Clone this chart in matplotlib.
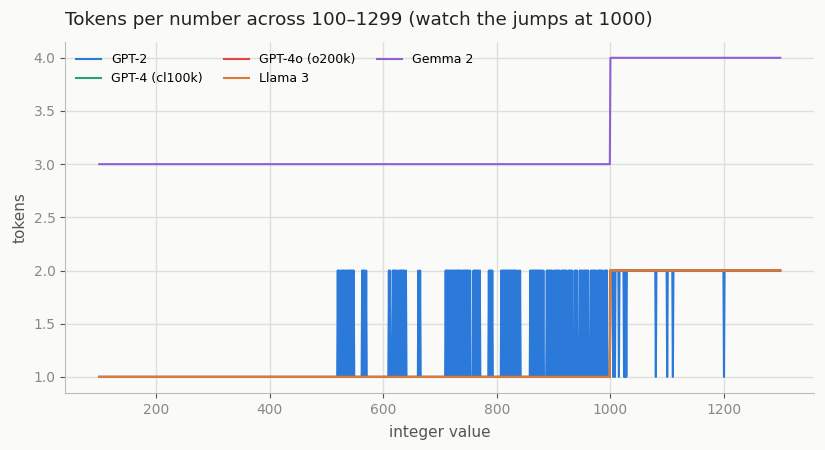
import numpy as np
import matplotlib
matplotlib.use('Agg')
import matplotlib.pyplot as plt

# range of integers shown
start_value = 100
end_value = 1299

# GPT-2: numbers below 1000 that take 2 tokens
gpt2_two_below_1000 = [
    520, 522, 524, 527, 529, 531, 533, 536, 538, 540, 542, 544, 546, 548,
    563, 565, 567, 570,
    610, 612,
    617, 619, 621, 623, 626,
    629, 631, 633, 635, 637, 640,
    662, 665,
    710, 712, 714, 716, 718, 720, 722, 725, 727, 729, 731, 733, 735, 737,
    740, 742, 744, 746, 748, 750, 753,
    759, 761, 763, 765, 767, 770,
    786, 788, 790, 792,
    808, 810, 812, 814, 816, 818, 820, 822, 824, 826, 828, 830, 832, 834,
    838, 841,
    859, 861, 863, 865, 867, 869, 871, 873, 875, 877, 879, 882,
    888, 890, 892, 894, 896, 898, 902, 904, 906, 908, 910, 914,
    916, 918, 920, 922, 926, 928, 930, 932,
    937, 939, 941,
    946, 948, 950,
    953, 955, 957, 959, 961,
    966, 968, 970, 972, 974, 978, 980, 982, 984, 986, 990, 992, 994,
]
# GPT-2: numbers from 1000 up that take only 1 token
gpt2_one_from_1000 = [1005, 1008, 1015, 1024, 1026, 1028, 1080, 1100, 1110, 1200]

# token counts below / from 1000 for the other tokenizers
cl100k_tokens = (1, 2)
o200k_tokens = (1, 2)
llama3_tokens = (1, 2)
gemma2_tokens = (3, 4)
jump_at = 1000

colors = {
    'GPT-2': '#2b79d9',
    'GPT-4 (cl100k)': '#22a37a',
    'GPT-4o (o200k)': '#e04848',
    'Llama 3': '#dc7b36',
    'Gemma 2': '#8f5fd6',
}

x = np.arange(start_value, end_value + 1)

gpt2 = np.where(x < jump_at, 1, 2)
gpt2[np.isin(x, gpt2_two_below_1000)] = 2
gpt2[np.isin(x, gpt2_one_from_1000)] = 1


def step(pair):
    return np.where(x < jump_at, pair[0], pair[1])


series = [
    ('GPT-2', gpt2),
    ('GPT-4 (cl100k)', step(cl100k_tokens)),
    ('GPT-4o (o200k)', step(o200k_tokens)),
    ('Llama 3', step(llama3_tokens)),
    ('Gemma 2', step(gemma2_tokens)),
]

bg = '#fafaf8'
fig, ax = plt.subplots(figsize=(8.25, 4.5), dpi=100)
fig.patch.set_facecolor(bg)
ax.set_facecolor(bg)

for name, vals in series:
    ax.plot(x, vals, color=colors[name], lw=1.5, label=name)

ax.set_yticks([1.0, 1.5, 2.0, 2.5, 3.0, 3.5, 4.0])
ax.grid(True, color='#e0e0da', lw=1)
ax.set_axisbelow(True)
for s in ['top', 'right']:
    ax.spines[s].set_visible(False)
for s in ['left', 'bottom']:
    ax.spines[s].set_color('#bdbdb8')
ax.tick_params(axis='both', colors='#555555', labelcolor='#888888',
               labelsize=10, length=3.5)

ax.set_xlabel('integer value', fontsize=11, color='#555555', labelpad=6)
ax.set_ylabel('tokens', fontsize=11, color='#555555')
ax.set_title('Tokens per number across 100\u20131299 (watch the jumps at 1000)',
             loc='left', fontsize=13.2, color='#222222', pad=12)

ax.legend(loc='upper left', ncol=3, frameon=False, fontsize=9,
          handlelength=2.0, columnspacing=1.7)

plt.subplots_adjust(left=0.079, right=0.987, top=0.907, bottom=0.127)
plt.savefig('out.png', dpi=100, facecolor=bg)
